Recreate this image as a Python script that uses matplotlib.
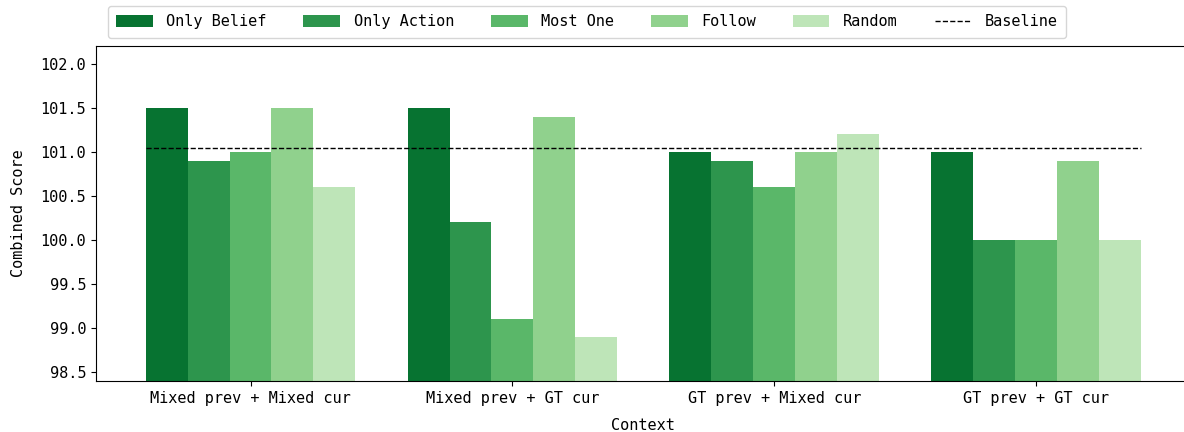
import numpy as np
import matplotlib
matplotlib.use("Agg")
import matplotlib.pyplot as plt

plt.rcParams['font.family'] = ['DejaVu Sans Mono', 'DejaVu Sans']
plt.rcParams['font.size'] = 11

contexts = ['Mixed prev + Mixed cur', 'Mixed prev + GT cur',
            'GT prev + Mixed cur', 'GT prev + GT cur']
methods = ['Only Belief', 'Only Action', 'Most One', 'Follow', 'Random']
scores = {
    'Only Belief': [101.5, 101.5, 101.0, 101.0],
    'Only Action': [100.9, 100.2, 100.9, 100.0],
    'Most One':    [101.0, 99.1, 100.6, 100.0],
    'Follow':      [101.5, 101.4, 101.0, 100.9],
    'Random':      [100.6, 98.9, 101.2, 100.0],
}
baseline = 101.04

colors = plt.cm.Greens(np.linspace(0.85, 0.28, len(methods)))

fig = plt.figure(figsize=(11.84, 4.32), dpi=100)
ax = fig.add_axes([96 / 1184, 1 - 381 / 432, (1190.6 - 96) / 1184, (381 - 46) / 432])

x = np.arange(len(contexts))
width = 0.16
handles = []
for i, m in enumerate(methods):
    b = ax.bar(x + (i - 2) * width, scores[m], width, color=colors[i], label=m)
    handles.append(b)

base = ax.hlines(baseline, x[0] - 2.5 * width, x[-1] + 2.5 * width,
                 colors='black', linestyles='--', linewidth=1, label='Baseline')
handles.append(base)

ax.set_ylim(98.4, 102.2)
ax.set_xlim(-0.59, 3.59)
ax.set_xticks(x)
ax.set_xticklabels(contexts)
ax.set_yticks([98.5, 99.0, 99.5, 100.0, 100.5, 101.0, 101.5, 102.0])
ax.set_xlabel('Context', labelpad=9)
ax.set_ylabel('Combined Score', labelpad=10.5)

fig.legend(handles=handles, labels=methods + ['Baseline'],
           loc='upper center', bbox_to_anchor=(587 / 1184, 1 - 6 / 432),
           borderaxespad=0, ncol=6, handlelength=2.4, handleheight=0.85,
           handletextpad=0.9, columnspacing=2.4, borderpad=0.55)

fig.savefig('out.png', dpi=100)
